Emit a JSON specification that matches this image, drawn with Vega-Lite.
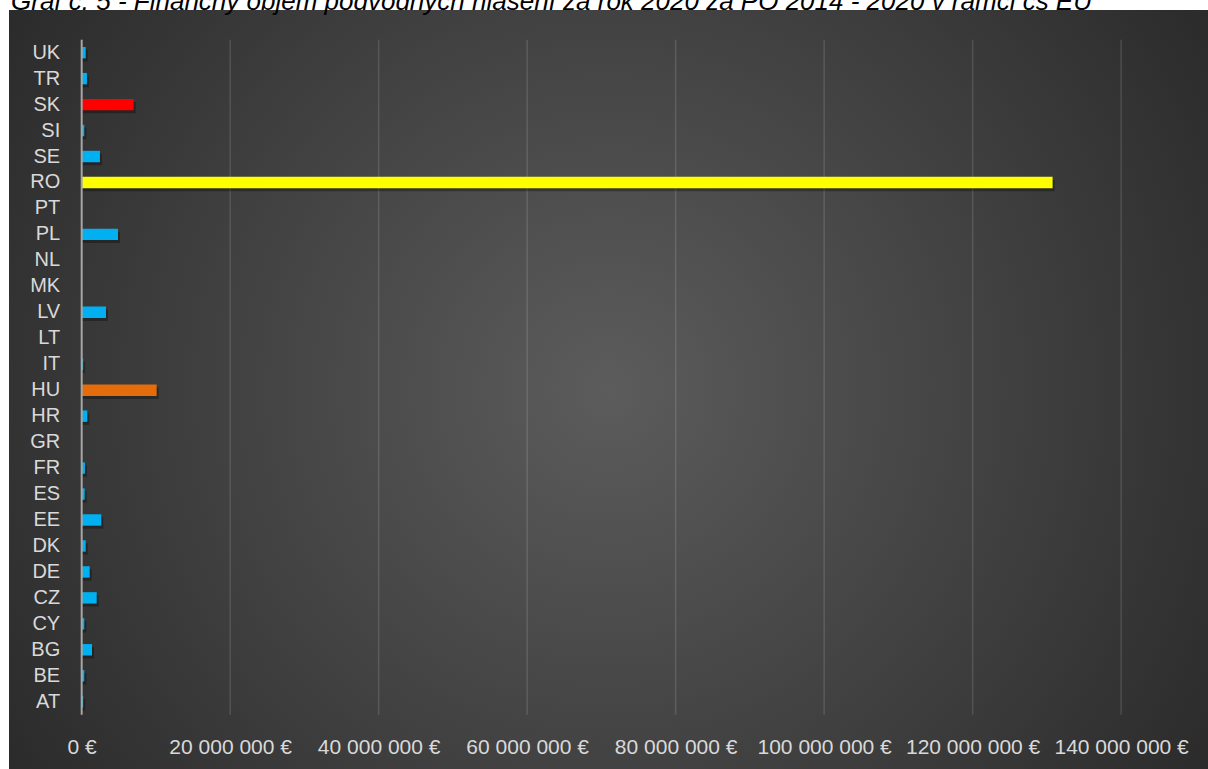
{
  "$schema": "https://vega.github.io/schema/vega-lite/v6.json",
  "width": 1199,
  "height": 759,
  "autosize": {"type": "none"},
  "padding": {"left": 9, "top": 10, "right": 0, "bottom": 0},
  "background": "#ffffff",
  "title": {
    "text": "Graf č. 5 - Finančný objem podvodných hlásení za rok 2020 za PO 2014 - 2020 v rámci čs EÚ",
    "anchor": "start",
    "frame": "group",
    "orient": "top",
    "offset": -31,
    "dx": 2,
    "baseline": "bottom",
    "font": "Liberation Sans",
    "fontStyle": "italic",
    "fontWeight": "normal",
    "fontSize": 26,
    "color": "#000000"
  },
  "view": {
    "stroke": null,
    "fill": {
      "gradient": "radial",
      "x1": 0.5, "y1": 0.5, "r1": 0,
      "x2": 0.5, "y2": 0.5, "r2": 0.65,
      "stops": [
        {"offset": 0, "color": "#5c5c5c"},
        {"offset": 1, "color": "#262626"}
      ]
    }
  },
  "datasets": {
    "hlasenia": [
      {"krajina": "UK", "suma": 540000},
      {"krajina": "TR", "suma": 710000},
      {"krajina": "SK", "suma": 7000000},
      {"krajina": "SI", "suma": 350000},
      {"krajina": "SE", "suma": 2460000},
      {"krajina": "RO", "suma": 130770000},
      {"krajina": "PT", "suma": 0},
      {"krajina": "PL", "suma": 4890000},
      {"krajina": "NL", "suma": 0},
      {"krajina": "MK", "suma": 0},
      {"krajina": "LV", "suma": 3270000},
      {"krajina": "LT", "suma": 0},
      {"krajina": "IT", "suma": 200000},
      {"krajina": "HU", "suma": 10100000},
      {"krajina": "HR", "suma": 750000},
      {"krajina": "GR", "suma": 0},
      {"krajina": "FR", "suma": 440000},
      {"krajina": "ES", "suma": 400000},
      {"krajina": "EE", "suma": 2640000},
      {"krajina": "DK", "suma": 540000},
      {"krajina": "DE", "suma": 1080000},
      {"krajina": "CZ", "suma": 2020000},
      {"krajina": "CY", "suma": 350000},
      {"krajina": "BG", "suma": 1390000},
      {"krajina": "BE", "suma": 350000},
      {"krajina": "AT", "suma": 200000}
    ],
    "mriezka": [
      {"hodnota": 20000000},
      {"hodnota": 40000000},
      {"hodnota": 60000000},
      {"hodnota": 80000000},
      {"hodnota": 100000000},
      {"hodnota": 120000000},
      {"hodnota": 140000000}
    ]
  },
  "layer": [
    {
      "data": {"name": "mriezka"},
      "mark": {"type": "rule", "color": "#ffffff", "opacity": 0.13, "strokeWidth": 1.5, "yOffset": -13, "y2Offset": 13},
      "encoding": {
        "x": {"field": "hodnota", "type": "quantitative"},
        "y": {"datum": "UK", "type": "nominal"},
        "y2": {"datum": "AT"}
      }
    },
    {
      "data": {"name": "hlasenia"},
      "transform": [{"filter": "datum.suma > 0"}],
      "mark": {"type": "bar", "color": "#000000", "opacity": 0.3, "xOffset": 2, "yOffset": 3},
      "encoding": {
        "x": {"field": "suma", "type": "quantitative"},
        "x2": {"datum": 0},
        "y": {"field": "krajina", "type": "nominal"}
      }
    },
    {
      "data": {"name": "hlasenia"},
      "mark": {"type": "bar"},
      "encoding": {
        "x": {
          "field": "suma",
          "type": "quantitative",
          "scale": {"domain": [-9790000, 151700000], "nice": false, "zero": false},
          "axis": {
            "orient": "bottom",
            "values": [0, 20000000, 40000000, 60000000, 80000000, 100000000, 120000000, 140000000],
            "format": "$,.0f",
            "grid": false,
            "domain": false,
            "ticks": false,
            "tickSize": 0,
            "labelPadding": 0,
            "offset": -16,
            "labelBaseline": "alphabetic",
            "labelFlush": false,
            "labelOverlap": false,
            "labelBound": false,
            "labelFont": "Liberation Sans",
            "labelFontSize": 21,
            "labelColor": "#d9d9d9",
            "title": null
          }
        },
        "x2": {"datum": 0},
        "y": {
          "field": "krajina",
          "type": "nominal",
          "sort": null,
          "scale": {
            "domain": ["UK", "TR", "SK", "SI", "SE", "RO", "PT", "PL", "NL", "MK", "LV", "LT", "IT", "HU", "HR", "GR", "FR", "ES", "EE", "DK", "DE", "CZ", "CY", "BG", "BE", "AT"],
            "range": [29.7, 704.7],
            "paddingInner": 0.56,
            "paddingOuter": 0.28
          },
          "axis": {
            "orient": "left",
            "offset": -72.7,
            "domain": false,
            "ticks": false,
            "tickSize": 0,
            "grid": false,
            "labelPadding": 22,
            "labelFont": "Liberation Sans",
            "labelFontSize": 20,
            "labelColor": "#d9d9d9",
            "title": null
          }
        },
        "color": {
          "condition": [
            {"test": "datum.krajina === 'RO'", "value": "#ffff00"},
            {"test": "datum.krajina === 'SK'", "value": "#ff0000"},
            {"test": "datum.krajina === 'HU'", "value": "#e46c0a"}
          ],
          "value": "#00b0f0"
        }
      }
    },
    {
      "data": {"values": [{}]},
      "mark": {"type": "rule", "color": "#a6a6a6", "strokeWidth": 2, "yOffset": -13, "y2Offset": 13},
      "encoding": {
        "x": {"datum": 0, "type": "quantitative"},
        "y": {"datum": "UK", "type": "nominal"},
        "y2": {"datum": "AT"}
      }
    }
  ],
  "config": {
    "locale": {
      "number": {"decimal": ",", "thousands": " ", "grouping": [3], "currency": ["", " €"]}
    }
  }
}
